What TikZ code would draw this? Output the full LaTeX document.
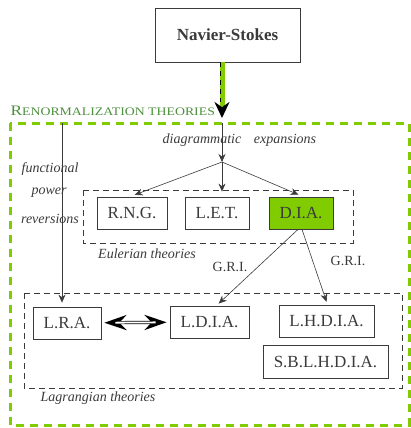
\documentclass[tikz,border=0pt]{standalone}
\usepackage{fontspec}
\setmainfont{Liberation Serif}
\usetikzlibrary{positioning, arrows.meta}
\definecolor{rgreen}{HTML}{80CC00}
\definecolor{tgreen}{HTML}{4E8F3E}
\definecolor{ink}{HTML}{3A3A3A}
\tikzset{
  box/.style={draw=ink, line width=0.8pt, text=ink, minimum height=32pt, inner sep=0pt,
    font=\fontsize{17}{20}\selectfont},
  note/.style={text=ink, font=\itshape\fontsize{14}{16}\selectfont, inner sep=0pt},
  group/.style={draw=ink, line width=0.6pt, dash pattern=on 6pt off 4pt},
}

\begin{document}
\begin{tikzpicture}[x=1pt,y=-1pt,>={Stealth[length=8pt,width=7pt]}]
\useasboundingbox (0,0) rectangle (410,428);
% renormalization frame
\draw[rgreen, line width=3pt, dash pattern=on 8pt off 6pt] (10,123) rectangle (409,425);
\node[tgreen, anchor=base west, inner sep=0pt, xscale=1.2, transform shape, font=\fontsize{14.5}{16}\selectfont]
  (renorm) at (10.3,115) {R{\fontsize{11.5}{13}\selectfont ENORMALIZATION THEORIES}};

\node[box, minimum width=145pt, minimum height=54pt, font=\bfseries\fontsize{17}{20}\selectfont] (ns) at (227.5,35) {Navier-Stokes};

% eulerian theories
\draw[group] (83,190) rectangle (353,243);
\node[box, minimum width=70pt] (rng) at (132,213) {R.N.G.};
\node[box, minimum width=64pt] (let) at (217,213) {L.E.T.};
\node[box, minimum width=64pt, fill=rgreen] (dia) at (301,213) {D.I.A.};
\node[note] (euler) at (147,254) {Eulerian theories};

% lagrangian theories
\draw[group] (24,293) rectangle (402,388);
\node[box, minimum width=68pt] (lra) at (67,323) {L.R.A.};
\node[box, minimum width=79pt] (ldia) at (209.5,322) {L.D.I.A.};
\node[box, minimum width=95pt] (lhdia) at (326.5,321) {L.H.D.I.A.};
\node[box, minimum width=125pt, minimum height=33pt] (sbl) at (325.5,361.5) {S.B.L.H.D.I.A.};
\node[note] (lagr) at (98,398) {Lagrangian theories};

% labels
\node[note] (diag) at (202,140) {diagrammatic};
\node[note] (expa) at (285,140) {expansions};
\node[note] (func) at (50,169) {functional};
\node[note] (powr) at (49,193) {power};
\node[note] (reve) at (50,219) {reversions};
\node[text=ink, font=\fontsize{14}{16}\selectfont, inner sep=0pt] (gri1) at (230,267) {G.R.I.};
\node[text=ink, font=\fontsize{14}{16}\selectfont, inner sep=0pt] (gri2) at (348,261) {G.R.I.};

\coordinate (nsin) at (222,118);
\coordinate (entry) at (222,123);
\coordinate (fork) at (222,162);
\coordinate (lrtop) at (62,123);

% connectors
\draw[rgreen, line width=5pt, -{Stealth[black,length=16pt,width=15pt]}] (ns.south -| nsin) -- (nsin);
\draw[black, line width=0.6pt, dash pattern=on 5pt off 4pt] ([xshift=-1.5pt]ns.south -| nsin) -- ++(0,40);
\draw[->, ink, line width=0.6pt] (entry) -- (fork);
\draw[->, ink, line width=0.6pt, shorten >=5pt] (fork) -- ([xshift=-2pt]rng.north);
\draw[->, ink, line width=0.6pt, shorten >=5pt] (fork) -- (let.north -| fork);
\draw[->, ink, line width=0.6pt, shorten >=5pt] (fork) -- ([xshift=2pt]dia.north);
\draw[->, ink, line width=0.6pt, shorten >=4pt] (lrtop) -- (lrtop |- lra.north);
\draw[->, ink, line width=0.6pt, shorten >=3pt] ([xshift=-3pt]dia.south) -- ([xshift=7pt]ldia.north);
\draw[->, ink, line width=0.6pt, shorten >=3pt] ([xshift=1pt]dia.south) -- ([xshift=1pt]lhdia.north);
% double arrow
\draw[black, line width=3.2pt, {Stealth[length=22pt,width=15pt,inset=7pt]}-{Stealth[length=22pt,width=15pt,inset=7pt]},
  shorten <=3pt, shorten >=3pt] (lra) -- (ldia);
\draw[white, line width=1.8pt, shorten <=14pt, shorten >=14pt] (lra) -- (ldia);
\end{tikzpicture}
\end{document}
